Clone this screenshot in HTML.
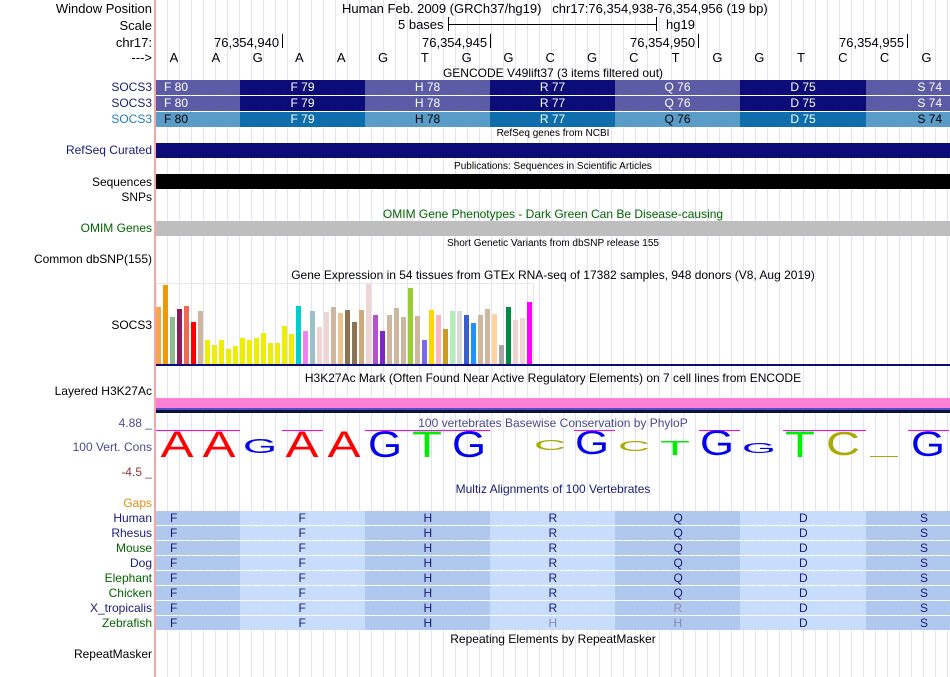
<!DOCTYPE html>
<html><head><meta charset="utf-8"><style>
body{margin:0;width:950px;height:677px;background:#fff;position:relative;overflow:hidden;font-family:"Liberation Sans",sans-serif;}
.a{position:absolute;white-space:nowrap;line-height:1;}
.l{position:absolute;right:798px;white-space:nowrap;font-size:12px;line-height:1;text-align:right;}
.grid{position:absolute;left:156px;top:0;width:794px;height:677px;background:repeating-linear-gradient(to right,transparent 0,transparent 11px,#e2e2fa 11px,#e2e2fa 12px);}
.t{position:absolute;left:156px;width:794px;text-align:center;font-size:12px;line-height:1;white-space:nowrap;}
.g{position:absolute;height:15px;font-size:12px;line-height:15px;text-align:center;color:#fff;}
.m{position:absolute;height:14px;font-size:12px;line-height:14px;text-align:center;color:#1a1a7a;}
</style></head><body>
<div class="grid"></div>
<div class="a" style="left:154px;top:0;width:2px;height:677px;background:#f4a8a8"></div>

<div class="l" style="top:2px;font-size:13px">Window Position</div>
<div class="l" style="top:19px;font-size:13px">Scale</div>
<div class="l" style="top:36px;font-size:13px">chr17:</div>
<div class="l" style="top:51px;font-size:13px">---&gt;</div>
<div class="a" style="left:342px;top:2px;font-size:13px">Human Feb. 2009 (GRCh37/hg19)&nbsp;&nbsp; chr17:76,354,938-76,354,956 (19 bp)</div>
<div class="a" style="left:398px;top:18px;font-size:13px">5 bases</div>
<div class="a" style="left:448px;top:17px;width:1px;height:14px;background:#000"></div>
<div class="a" style="left:448px;top:24px;width:208px;height:1px;background:#000"></div>
<div class="a" style="left:656px;top:17px;width:1px;height:14px;background:#000"></div>
<div class="a" style="left:666px;top:18px;font-size:13px">hg19</div>
<div class="a" style="left:214px;top:36px;font-size:13px">76,354,940</div><div class="a" style="left:282px;top:34px;width:1px;height:14px;background:#000"></div>
<div class="a" style="left:422px;top:36px;font-size:13px">76,354,945</div><div class="a" style="left:490px;top:34px;width:1px;height:14px;background:#000"></div>
<div class="a" style="left:630px;top:36px;font-size:13px">76,354,950</div><div class="a" style="left:698px;top:34px;width:1px;height:14px;background:#000"></div>
<div class="a" style="left:839px;top:36px;font-size:13px">76,354,955</div><div class="a" style="left:907px;top:34px;width:1px;height:14px;background:#000"></div>
<div id="bases"></div>

<div class="t" style="top:67px">GENCODE V49lift37 (3 items filtered out)</div>
<div class="l" style="top:81px;color:#1a1a7a">SOCS3</div>
<div class="l" style="top:97px;color:#1a1a7a">SOCS3</div>
<div class="l" style="top:113px;color:#1e7fc0">SOCS3</div>
<div id="genes"></div>

<div class="t" style="top:129px;font-size:10px">RefSeq genes from NCBI</div>
<div class="l" style="top:144px;color:#1a1a7a">RefSeq Curated</div>
<div class="a" style="left:156px;top:143px;width:794px;height:15px;background:#0c0c78"></div>
<div class="t" style="top:162px;font-size:10px">Publications: Sequences in Scientific Articles</div>
<div class="l" style="top:176px">Sequences</div>
<div class="a" style="left:156px;top:174px;width:794px;height:15px;background:#000"></div>
<div class="l" style="top:191px">SNPs</div>
<div class="t" style="top:208px;color:#006400">OMIM Gene Phenotypes - Dark Green Can Be Disease-causing</div>
<div class="l" style="top:222px;color:#006400">OMIM Genes</div>
<div class="a" style="left:156px;top:221px;width:794px;height:15px;background:#bebebe"></div>
<div class="t" style="top:239px;font-size:10px">Short Genetic Variants from dbSNP release 155</div>
<div class="l" style="top:253px">Common dbSNP(155)</div>
<div class="t" style="top:269px">Gene Expression in 54 tissues from GTEx RNA-seq of 17382 samples, 948 donors (V8, Aug 2019)</div>
<div class="l" style="top:319px">SOCS3</div>
<div class="a" style="left:156px;top:283px;width:378px;height:81px;border:1px solid #e8e8e8;box-sizing:border-box"></div>
<div id="gtex"></div>
<div class="a" style="left:156px;top:364px;width:794px;height:2px;background:#0c0c78"></div>

<div class="t" style="top:372px">H3K27Ac Mark (Often Found Near Active Regulatory Elements) on 7 cell lines from ENCODE</div>
<div class="l" style="top:385px">Layered H3K27Ac</div>
<div class="a" style="left:156px;top:398px;width:794px;height:10px;background:#ff80d4"></div>
<div class="a" style="left:156px;top:408px;width:794px;height:2px;background:#5050c0"></div>
<div class="a" style="left:156px;top:410px;width:794px;height:3px;background:#101040"></div>

<div class="t" style="top:417px;color:#4a4a90">100 vertebrates Basewise Conservation by PhyloP</div>
<div class="l" style="top:417px;color:#4a4a90">4.88 _</div>
<div class="l" style="top:441px;color:#4a4a90">100 Vert. Cons</div>
<div class="l" style="top:466px;color:#8b3a3a">-4.5 _</div>
<svg class="a" style="left:0;top:0" width="950" height="677">
<g stroke="#ff00ff" stroke-width="1">
<line x1="156" y1="430.5" x2="240" y2="430.5"/><line x1="282" y1="430.5" x2="323" y2="430.5"/>
<line x1="365" y1="430.5" x2="490" y2="430.5"/><line x1="574" y1="430.5" x2="615" y2="430.5"/>
<line x1="699" y1="430.5" x2="740" y2="430.5"/><line x1="783" y1="430.5" x2="866" y2="430.5"/>
<line x1="908" y1="430.5" x2="949" y2="430.5"/>
</g>
<g font-family="Liberation Sans" text-anchor="middle">
<text transform="translate(177,457) scale(1,1)" font-size="37" fill="#ff0000" textLength="33" lengthAdjust="spacingAndGlyphs">A</text>
<text transform="translate(219,457) scale(1,1)" font-size="37" fill="#ff0000" textLength="33" lengthAdjust="spacingAndGlyphs">A</text>
<text transform="translate(260,453) scale(1,0.55)" font-size="37" fill="#0000ee" textLength="34" lengthAdjust="spacingAndGlyphs">G</text>
<text transform="translate(302,457) scale(1,1)" font-size="37" fill="#ff0000" textLength="33" lengthAdjust="spacingAndGlyphs">A</text>
<text transform="translate(344,457) scale(1,1)" font-size="37" fill="#ff0000" textLength="33" lengthAdjust="spacingAndGlyphs">A</text>
<text transform="translate(385,457) scale(1,1)" font-size="37" fill="#0000ee" textLength="34" lengthAdjust="spacingAndGlyphs">G</text>
<text transform="translate(427,457) scale(1,1)" font-size="37" fill="#00ee00" textLength="30" lengthAdjust="spacingAndGlyphs">T</text>
<text transform="translate(469,457) scale(1,1)" font-size="37" fill="#0000ee" textLength="34" lengthAdjust="spacingAndGlyphs">G</text>
<text transform="translate(550,450) scale(1,0.4)" font-size="37" fill="#aaaa00" textLength="32" lengthAdjust="spacingAndGlyphs">C</text>
<text transform="translate(592,454) scale(1,0.9)" font-size="37" fill="#0000ee" textLength="34" lengthAdjust="spacingAndGlyphs">G</text>
<text transform="translate(634,451) scale(1,0.4)" font-size="37" fill="#aaaa00" textLength="32" lengthAdjust="spacingAndGlyphs">C</text>
<text transform="translate(675,455) scale(1,0.55)" font-size="37" fill="#00ee00" textLength="30" lengthAdjust="spacingAndGlyphs">T</text>
<text transform="translate(717,455) scale(1,0.95)" font-size="37" fill="#0000ee" textLength="34" lengthAdjust="spacingAndGlyphs">G</text>
<text transform="translate(759,453) scale(1,0.4)" font-size="37" fill="#0000ee" textLength="34" lengthAdjust="spacingAndGlyphs">G</text>
<text transform="translate(800,457) scale(1,1)" font-size="37" fill="#00ee00" textLength="30" lengthAdjust="spacingAndGlyphs">T</text>
<text transform="translate(843,455) scale(1,0.9)" font-size="37" fill="#aaaa00" textLength="34" lengthAdjust="spacingAndGlyphs">C</text>
<text transform="translate(928,456) scale(1,0.95)" font-size="37" fill="#0000ee" textLength="34" lengthAdjust="spacingAndGlyphs">G</text>
</g>
<line x1="870" y1="456.5" x2="898" y2="456.5" stroke="#aaaa00" stroke-width="1"/>
</svg>

<div class="t" style="top:483px;color:#1a1a7a">Multiz Alignments of 100 Vertebrates</div>
<div class="l" style="top:497px;color:#e08c10">Gaps</div>
<div id="multiz"></div>
<div class="t" style="top:633px">Repeating Elements by RepeatMasker</div>
<div class="l" style="top:648px">RepeatMasker</div>

<script>
var b="AAGAAGTGGCGCTGGTCCG",h="";
for(var i=0;i<19;i++)h+='<div class="a" style="left:'+(174+41.8*i-5)+'px;top:51px;font-size:13px;width:10px;text-align:center">'+b[i]+'</div>';
document.getElementById("bases").innerHTML=h;
var blocks=[[156,240,"F 80",0],[240,365,"F 79",1],[365,490,"H 78",0],[490,615,"R 77",1],[615,740,"Q 76",0],[740,866,"D 75",1],[866,950,"S 74",0]];
h="";
var rows=[[80,"#5c5ca6","#0c0c78",0],[96,"#5c5ca6","#0c0c78",0],[112,"#5a9cc8","#0e6eab",1]];
rows.forEach(function(r){blocks.forEach(function(k,j){
 var st=j==0?'text-align:left;padding-left:8px;box-sizing:border-box;':(j==6?'text-align:right;padding-right:8px;box-sizing:border-box;':'');
 var col=(r[3]&&!k[3])?'#000':'#fff';
 h+='<div class="g" style="'+st+'left:'+k[0]+'px;top:'+r[0]+'px;width:'+(k[1]-k[0])+'px;background:'+(k[3]?r[2]:r[1])+';color:'+col+'">'+k[2]+'</div>';});});
document.getElementById("genes").innerHTML=h;
var g=[["#f9a54d",80],["#ee9a00",15],["#8fbc8f",110],["#8b1a5a",87],["#ee6a50",78],["#ff0000",126],["#cdb79e",93],
["#eeee00",180],["#eeee00",195],["#eeee00",180],["#eeee00",207],["#eeee00",198],["#eeee00",174],["#eeee00",180],["#eeee00",174],["#eeee00",159],["#eeee00",189],["#eeee00",189],["#eeee00",138],["#eeee00",162],
["#00cdcd",78],["#ee82ee",153],["#9ac0cd",93],["#eed5d2",141],["#eed5d2",96],["#cdb79e",81],["#eec591",99],["#8b7355",90],["#8b7355",126],["#cdaa7d",90],["#eed5d2",12],["#b452cd",105],["#7d26cd",153],["#cdb79e",105],["#cdb79e",84],["#cdb79e",111],["#9acd32",24],["#cdb79e",108],["#7b68ee",180],["#ffd700",90],["#ffb6c1",105],["#cd9b1d",147],["#b4eeb4",93],["#d9d9d9",93],["#3a5fcd",105],["#1e90ff",129],["#cdb79e",105],["#cdb79e",87],["#ffd39b",102],["#a6a6a6",195],["#008b45",81],["#eed5d2",120],["#eed5d2",114],["#ff00ff",66]];
h="";
g.forEach(function(v,i){var top=280+v[1]/3;h+='<div class="a" style="left:'+(156+7*i)+'px;top:'+top+'px;width:5px;height:'+(364-top)+'px;background:'+v[0]+'"></div>';});
document.getElementById("gtex").innerHTML=h;
var sp=[["Human","#1a1a7a"],["Rhesus","#1a1a7a"],["Mouse","#006400"],["Dog","#1a1a7a"],["Elephant","#006400"],["Chicken","#006400"],["X_tropicalis","#1a1a7a"],["Zebrafish","#006400"]];
var aa=[["F","F","H","R","Q","D","S"],["F","F","H","R","Q","D","S"],["F","F","H","R","Q","D","S"],["F","F","H","R","Q","D","S"],["F","F","H","R","Q","D","S"],["F","F","H","R","Q","D","S"],["F","F","H","R","R","D","S"],["F","F","H","H","H","D","S"]];
h="";
sp.forEach(function(s,r){var y=511+15*r;
 h+='<div class="l" style="top:'+(y+1)+'px;color:'+s[1]+'">'+s[0]+'</div>';
 blocks.forEach(function(k,j){var gray=(r==6&&j==4)||(r==7&&(j==3||j==4));
  h+='<div class="m" style="left:'+k[0]+'px;top:'+y+'px;width:'+(k[1]-k[0])+'px;background:'+(j%2?'#c8dcfc':'#b0c8ee')+'"><span class="a" style="left:'+(j==0?14:(j==6?54:(k[1]-k[0])/2-4))+'px;top:1px;color:'+(gray?'#8888bb':'#1a1a7a')+'">'+aa[r][j]+'</span></div>';});});
document.getElementById("multiz").innerHTML=h;
</script>
</body></html>
